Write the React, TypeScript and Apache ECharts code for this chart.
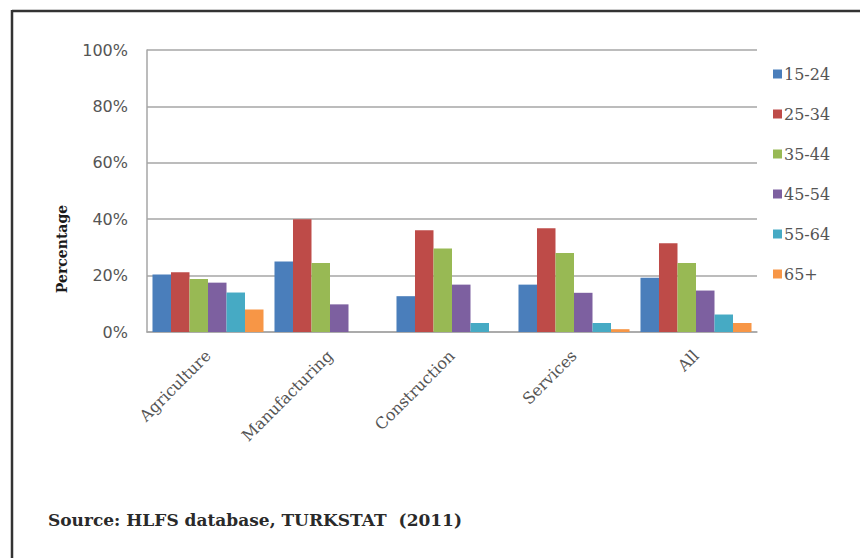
import React, { useEffect, useRef } from "react";
import * as echarts from "echarts";

const categories = ["Agriculture", "Manufacturing", "Construction", "Services", "All"];
const seriesNames = ["15-24", "25-34", "35-44", "45-54", "55-64", "65+"];
const v1524 = [20.4, 25.0, 12.7, 16.8, 19.2];
const v2534 = [21.2, 40.0, 36.1, 36.8, 31.5];
const v3544 = [18.8, 24.5, 29.6, 28.0, 24.5];
const v4554 = [17.5, 9.8, 16.8, 13.9, 14.7];
const v5564 = [14.0, 0, 3.2, 3.2, 6.2];
const v65 = [8.0, 0, 0, 1.0, 3.2];
const yTicks = [0, 20, 40, 60, 80, 100];
const colors = ["#4a7ebb", "#be4b48", "#98b954", "#7d60a0", "#46aac4", "#f79646"];

export default function App() {
  const ref = useRef<HTMLDivElement>(null);
  useEffect(() => {
    document.body.style.margin = "0";
    if (!ref.current) return;
    const chart = echarts.init(ref.current, null, { renderer: "svg" });
    const values = [v1524, v2534, v3544, v4554, v5564, v65];
    chart.setOption({
      animation: false,
      backgroundColor: "#ffffff",
      grid: { left: 147, right: 103, top: 50, bottom: 226, containLabel: false },
      legend: {
        orient: "vertical",
        left: 768,
        top: 61,
        itemWidth: 9,
        itemHeight: 9,
        itemGap: 24,
        icon: "rect",
        data: seriesNames,
        textStyle: { fontFamily: "DejaVu Serif", fontSize: 16, color: "#555", padding: [0, 0, 0, -3] },
      },
      xAxis: {
        type: "category",
        data: categories,
        axisLine: { lineStyle: { color: "#a6a6a6", width: 1.5 } },
        axisTick: { show: false },
        axisLabel: {
          rotate: 45,
          margin: 21,
          fontFamily: "DejaVu Serif",
          fontSize: 16,
          color: "#555",
          interval: 0,
        },
      },
      yAxis: {
        type: "value",
        min: 0,
        max: 100,
        interval: 20,
        axisLine: { show: true, lineStyle: { color: "#a6a6a6", width: 1.5 } },
        axisTick: { show: false },
        splitLine: { lineStyle: { color: "#a6a6a6", width: 1.5 } },
        axisLabel: {
          margin: 19,
          fontFamily: "DejaVu Sans",
          fontSize: 16,
          color: "#555",
          formatter: (v: number) => (yTicks.includes(v) ? v + "%" : ""),
        },
      },
      series: seriesNames.map((name, i) => ({
        name,
        type: "bar",
        data: values[i],
        barGap: "0%",
        barCategoryGap: "9%",
        itemStyle: { color: colors[i] },
      })),
      graphic: [
        {
          type: "line",
          shape: { x1: 12, y1: 11, x2: 860, y2: 11 },
          style: { stroke: "#333", lineWidth: 2.5 },
        },
        {
          type: "line",
          shape: { x1: 12, y1: 10, x2: 12, y2: 558 },
          style: { stroke: "#333", lineWidth: 2.5 },
        },
        {
          type: "text",
          x: 62,
          y: 249,
          rotation: Math.PI / 2,
          style: {
            text: "Percentage",
            fontFamily: "DejaVu Serif",
            fontWeight: "bold",
            fontSize: 14,
            fill: "#1a1a1a",
            align: "center",
            verticalAlign: "middle",
          },
        },
        {
          type: "text",
          x: 48,
          y: 520,
          style: {
            text: "Source: HLFS database, TURKSTAT  (2011)",
            fontFamily: "DejaVu Serif",
            fontWeight: "bold",
            fontSize: 17,
            fill: "#2a2a2a",
            align: "left",
            verticalAlign: "middle",
          },
        },
      ],
    });
    return () => chart.dispose();
  }, []);
  return <div ref={ref} style={{ width: 860, height: 558 }} />;
}
